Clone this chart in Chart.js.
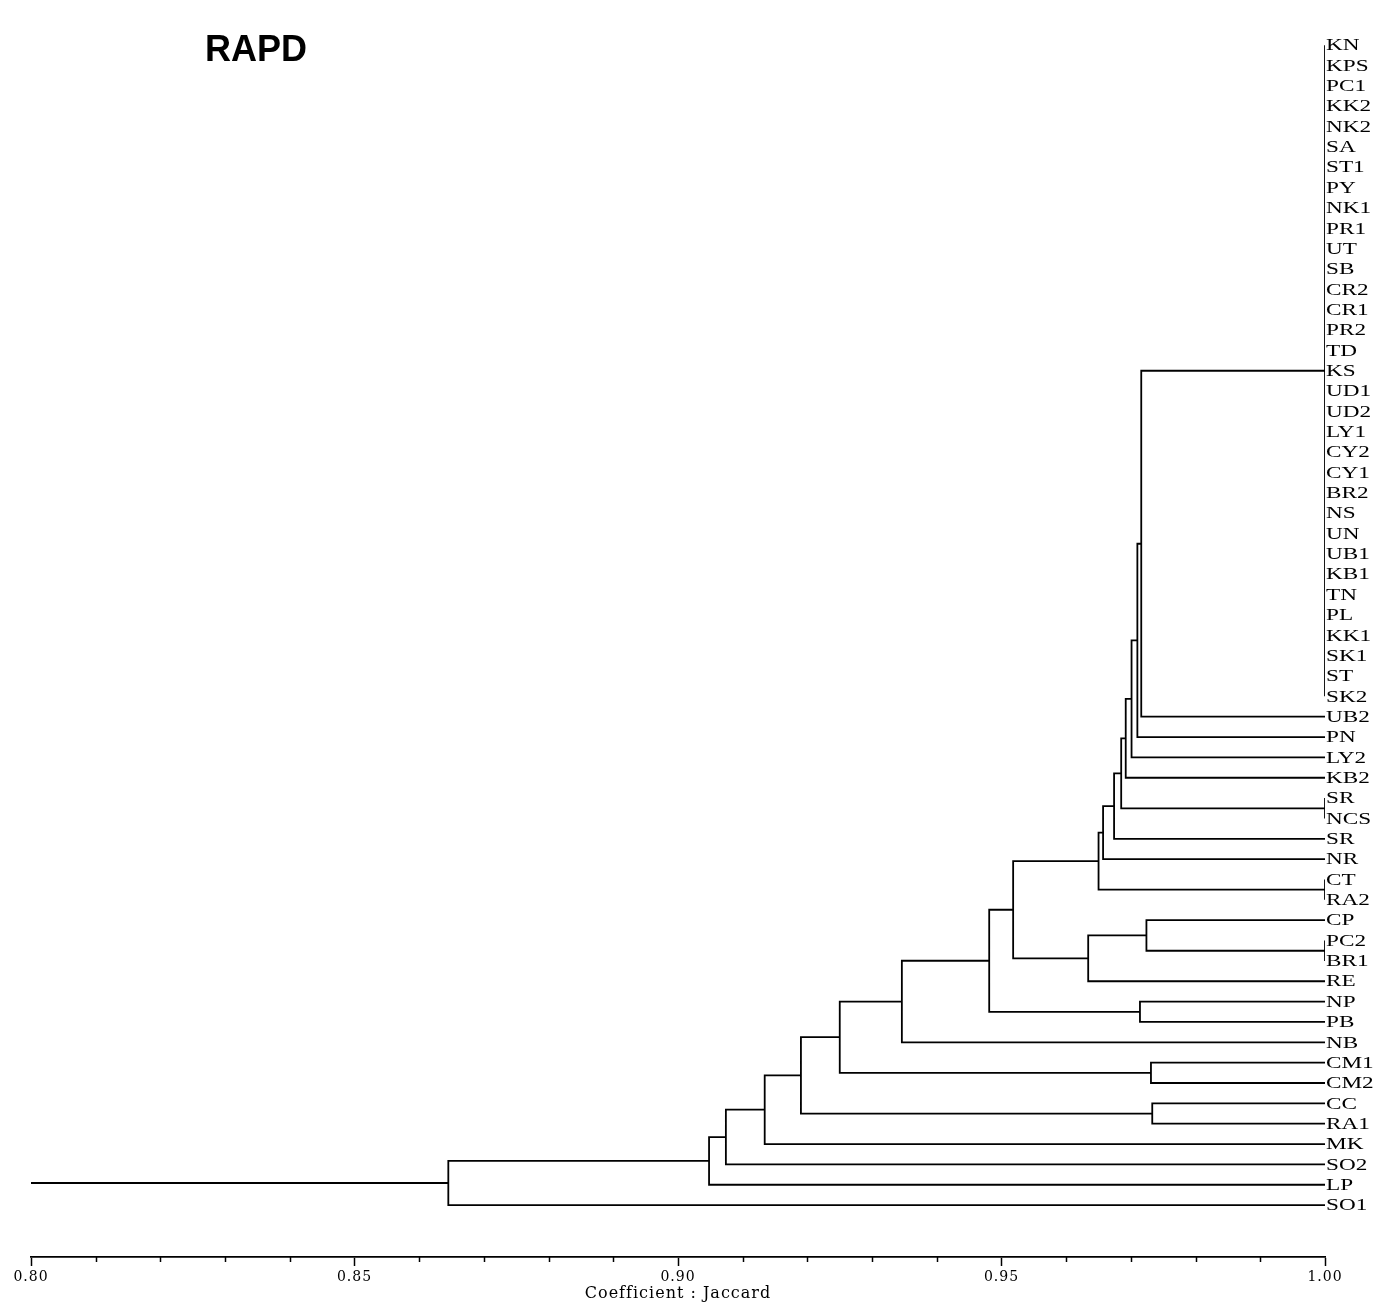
<!DOCTYPE html>
<html>
<head>
<meta charset="utf-8">
<title>RAPD dendrogram</title>
<script src="https://cdn.jsdelivr.net/npm/chart.js@4.4.1/dist/chart.umd.min.js"></script>
<style>
    body { margin: 0; background: #fff; }
    #wrap { width: 1377px; height: 1302px; position: relative; }
</style>
</head>
<body>
<div id="wrap"><canvas id="dendro"></canvas></div>
<script>
// leaves, top to bottom
const leafLabels = [
    'KN', 'KPS', 'PC1', 'KK2', 'NK2', 'SA', 'ST1', 'PY', 'NK1', 'PR1',
    'UT', 'SB', 'CR2', 'CR1', 'PR2', 'TD', 'KS', 'UD1', 'UD2', 'LY1',
    'CY2', 'CY1', 'BR2', 'NS', 'UN', 'UB1', 'KB1', 'TN', 'PL', 'KK1',
    'SK1', 'ST', 'SK2', 'UB2', 'PN', 'LY2', 'KB2', 'SR', 'NCS', 'SR',
    'NR', 'CT', 'RA2', 'CP', 'PC2', 'BR1', 'RE', 'NP', 'PB', 'NB',
    'CM1', 'CM2', 'CC', 'RA1', 'MK', 'SO2', 'LP', 'SO1'
];

// clusters: children are leaf indexes (numbers) or cluster names (strings)
const clusterNames = [
    'A', 'SN', 'CR', 'PB1', 'c2', 'c3', 'c4', 'c5', 'c6', 'c7', 'c8', 'c9',
    'x2', 'x3', 'c10', 'np', 'c11', 'c12', 'cm', 'c13', 'cc', 'c14', 'c15',
    'c16', 'c17', 'c18'
];
const clusterChildren = [
    [0, 1, 2, 3, 4, 5, 6, 7, 8, 9, 10, 11, 12, 13, 14, 15, 16, 17, 18, 19,
     20, 21, 22, 23, 24, 25, 26, 27, 28, 29, 30, 31, 32],
    [37, 38],
    [41, 42],
    [44, 45],
    ['A', 33],
    ['c2', 34],
    ['c3', 35],
    ['c4', 36],
    ['c5', 'SN'],
    ['c6', 39],
    ['c7', 40],
    ['c8', 'CR'],
    [43, 'PB1'],
    ['x2', 46],
    ['c9', 'x3'],
    [47, 48],
    ['c10', 'np'],
    ['c11', 49],
    [50, 51],
    ['c12', 'cm'],
    [52, 53],
    ['c13', 'cc'],
    ['c14', 54],
    ['c15', 55],
    ['c16', 56],
    ['c17', 57]
];
const clusterHeights = [
    1.00, 1.00, 1.00, 1.00, 0.9716, 0.9710, 0.9701, 0.9692, 0.9685, 0.9674,
    0.9657, 0.9650, 0.9724, 0.9634, 0.9518, 0.9714, 0.9481, 0.9346, 0.9731,
    0.9250, 0.9733, 0.9190, 0.9134, 0.9074, 0.9048, 0.8645
];

const axisMin = 0.80;
const axisMax = 1.00;
const axisTitle = 'Coefficient : Jaccard';
const chartTitle = 'RAPD';

// positions of every node (x = coefficient, y = leaf slot)
const nodePos = {};
function posOf(child) {
    if (typeof child === 'number') return { x: 1.00, y: child };
    return nodePos[child];
}

const GAP = { x: null, y: null };
const linePoints = [];
clusterNames.forEach((name, i) => {
    const kids = clusterChildren[i].map(posOf);
    const h = clusterHeights[i];
    const first = kids[0];
    const last = kids[kids.length - 1];
    nodePos[name] = { x: h, y: (first.y + last.y) / 2 };

    if (kids.length === 2) {
        linePoints.push(
            { x: first.x, y: first.y }, { x: h, y: first.y },
            { x: h, y: last.y }, { x: last.x, y: last.y }, GAP
        );
    } else {
        linePoints.push({ x: h, y: first.y }, { x: h, y: last.y }, GAP);
        kids.forEach((k) => {
            if (k.x !== h) linePoints.push({ x: k.x, y: k.y }, { x: h, y: k.y }, GAP);
        });
    }
});
// root stem
const root = nodePos[clusterNames[clusterNames.length - 1]];
linePoints.push({ x: root.x, y: root.y }, { x: axisMin, y: root.y });

const isMajor = (v) => Math.abs(v * 20 - Math.round(v * 20)) < 1e-6;

const decorPlugin = {
    id: 'decor',
    beforeDraw(chart) {
        const { ctx } = chart;
        ctx.save();
        ctx.fillStyle = '#fff';
        ctx.fillRect(0, 0, chart.width, chart.height);
        ctx.restore();
        ctx.letterSpacing = '1px';
    },
    beforeDatasetsDraw(chart) {
        chart.ctx.letterSpacing = '0px';
    },
    afterDraw(chart) {
        const { ctx, scales: { x, y }, chartArea } = chart;
        ctx.save();

        // minor ticks
        ctx.strokeStyle = '#000';
        ctx.lineWidth = 1.5;
        for (let k = 0; k <= 20; k++) {
            const v = axisMin + k * 0.01;
            if (isMajor(v)) continue;
            const px = Math.round(x.getPixelForValue(v)) + 0.5;
            ctx.beginPath();
            ctx.moveTo(px, chartArea.bottom);
            ctx.lineTo(px, chartArea.bottom + 5);
            ctx.stroke();
        }

        // leaf labels
        ctx.fillStyle = '#000';
        ctx.font = '16px "Liberation Serif", serif';
        ctx.textBaseline = 'middle';
        ctx.textAlign = 'left';
        leafLabels.forEach((lab, i) => {
            ctx.save();
            ctx.translate(chartArea.right + 1, y.getPixelForValue(i) + 1);
            ctx.scale(1.45, 1);
            ctx.fillText(lab, 0, 0);
            ctx.restore();
        });

        // title
        ctx.font = 'bold 36px "Liberation Sans", Arial, sans-serif';
        ctx.fillStyle = '#000';
        ctx.textBaseline = 'middle';
        ctx.fillText(chartTitle, 205, 51);
        ctx.restore();
    }
};

new Chart(document.getElementById('dendro'), {
    type: 'scatter',
    data: {
        datasets: [{
            data: linePoints,
            showLine: true,
            spanGaps: false,
            borderColor: '#000',
            borderWidth: 1.8,
            pointRadius: 0,
            pointHoverRadius: 0,
        }],
    },
    options: {
        responsive: true,
        maintainAspectRatio: false,
        animation: false,
        events: [],
        layout: { padding: { left: 31, right: 52, top: 35, bottom: 0 } },
        plugins: {
            legend: { display: false },
            tooltip: { enabled: false },
        },
        scales: {
            x: {
                type: 'linear',
                min: axisMin,
                max: axisMax,
                afterFit: (s) => { s.height = 45; },
                ticks: {
                    stepSize: 0.01,
                    autoSkip: false,
                    maxRotation: 0,
                    padding: 3,
                    color: '#000',
                    font: { family: '"DejaVu Serif", serif', size: 14 },
                    callback: (v) => (isMajor(v) ? v.toFixed(2) : ''),
                },
                grid: {
                    drawOnChartArea: false,
                    drawTicks: true,
                    tickLength: 9,
                    tickWidth: 1.5,
                    tickColor: (c) => (c.tick && isMajor(c.tick.value) ? '#000' : 'rgba(0,0,0,0)'),
                },
                border: { display: true, color: '#000', width: 1.8 },
                title: {
                    display: true,
                    text: axisTitle,
                    color: '#000',
                    font: { family: '"DejaVu Serif", serif', size: 16, lineHeight: 1 },
                    padding: { top: 0, bottom: 0 },
                },
            },
            y: {
                type: 'linear',
                display: false,
                reverse: true,
                min: -0.5,
                max: 59.55,
            },
        },
    },
    plugins: [decorPlugin],
});
</script>
</body>
</html>
